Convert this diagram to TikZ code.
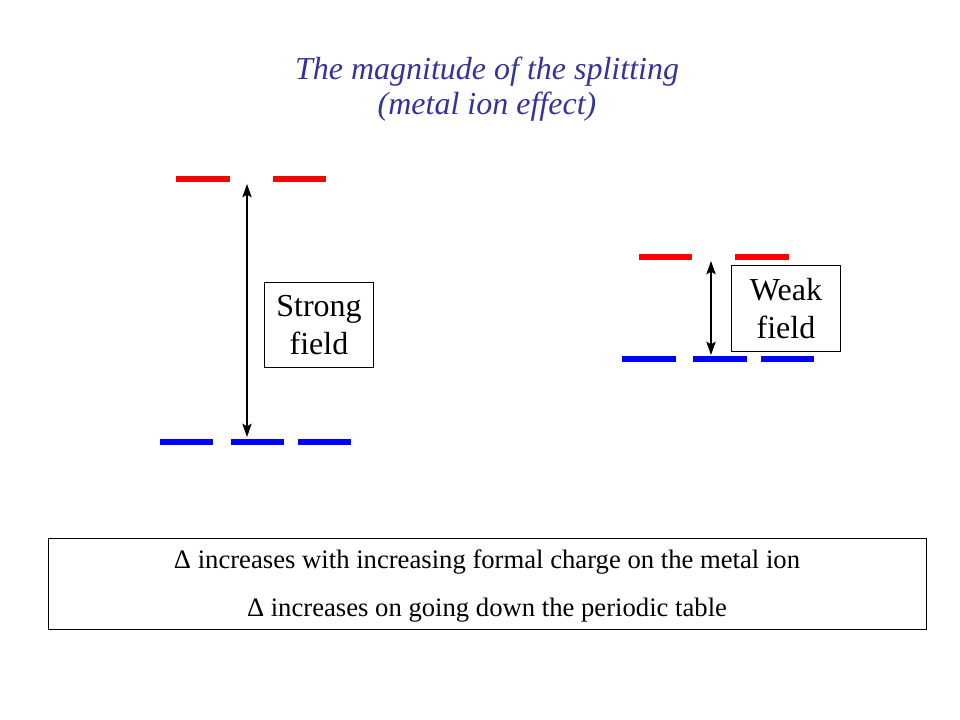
\documentclass[tikz,border=0pt]{standalone}
\usepackage{fontspec}
\setmainfont{Liberation Serif}
\usepackage{tikz}
\usetikzlibrary{calc,positioning,arrows.meta}
\definecolor{titleblue}{RGB}{51,51,153}

\tikzset{
    level/.style={fill=#1, inner sep=0pt, minimum width=40pt, minimum height=4.5pt},
    fieldbox/.style={draw, line width=0.75pt, align=center, minimum width=82pt, minimum height=64pt, font=\fontsize{24pt}{28pt}\selectfont},
    gap/.style={{Stealth[length=10pt,width=7pt,inset=2pt]}-{Stealth[length=10pt,width=7pt,inset=2pt]}, line width=1.1pt}
}

\begin{document}
\begin{tikzpicture}[x=0.75pt, y=-0.75pt]
        \useasboundingbox (0,0) rectangle (960,720);

        % title
        \node [text=titleblue, align=center, font=\fontsize{24pt}{26.5pt}\selectfont\itshape] (title) at (487,89) {The magnitude of the splitting\\(metal ion effect)};

        % strong field
        \node [level=red] (seg1) at (203,179) {};
        \node [level=red] (seg2) at (299.5,179) {};
        \node [level=blue] (st1) at (186.5,442) {};
        \node [level=blue] (st2) at (257.5,442) {};
        \node [level=blue] (st3) at (324.5,442) {};
        \coordinate (stop) at (247,184);
        \coordinate (sbot) at (247,437);
        \draw[gap] (stop) -- (sbot);
        \node [fieldbox] (strong) at (319,325) {Strong\\field};

        % weak field
        \node [level=red] (weg1) at (665.5,257) {};
        \node [level=red] (weg2) at (762,257) {};
        \node [level=blue] (wt1) at (649,359) {};
        \node [level=blue] (wt2) at (720,359) {};
        \node [level=blue] (wt3) at (787.5,359) {};
        \coordinate (wtop) at (711,261);
        \coordinate (wbot) at (711,355);
        \draw[gap] (wtop) -- (wbot);
        \node [fieldbox, minimum height=65pt] (weak) at (786,308.5) {Weak\\field};

        % trends
        \draw[line width=0.75pt] (48,538) rectangle (926,629);
        \node [align=center, font=\fontsize{20pt}{36pt}\selectfont] (trends) at (487,586) {Δ increases with increasing formal charge on the metal ion\\Δ increases on going down the periodic table};
    \end{tikzpicture}
\end{document}
